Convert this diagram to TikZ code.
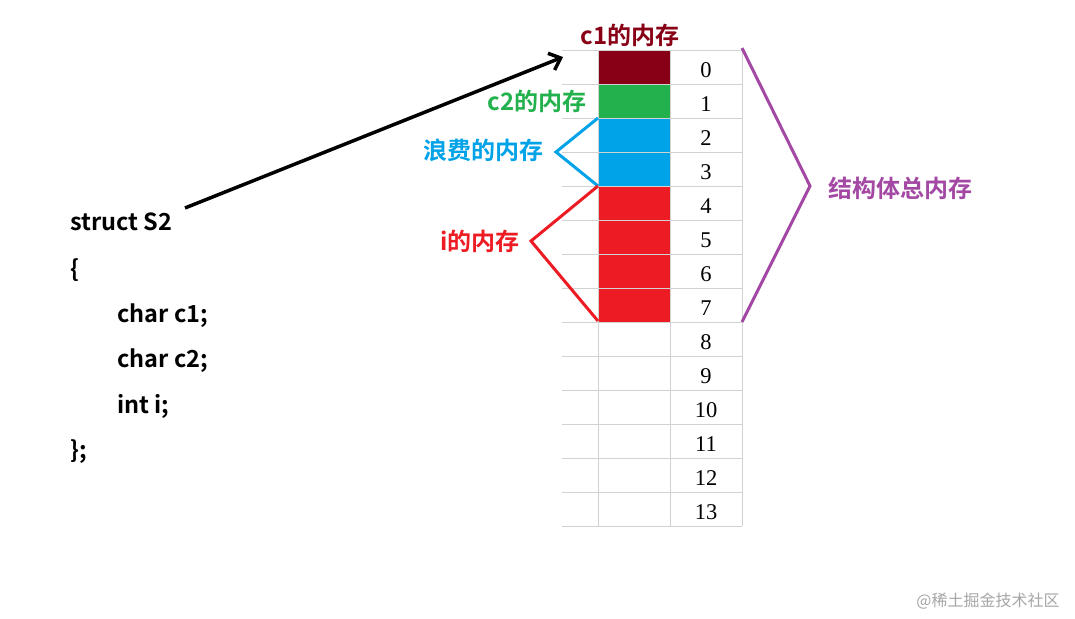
\documentclass[tikz,border=0pt]{standalone}
\usepackage{fontspec}
\setmainfont{Liberation Serif}
\newfontfamily\cjk{Noto Sans CJK SC}[BoldFont={* Bold}]
\usetikzlibrary{arrows.meta}
\definecolor{cone}{HTML}{880015}
\definecolor{ctwo}{HTML}{22B14C}
\definecolor{waste}{HTML}{00A2E8}
\definecolor{ired}{HTML}{ED1C24}
\definecolor{purp}{HTML}{A349A4}
\tikzset{lab/.style={font=\cjk\bfseries\fontsize{24}{28}\selectfont,inner sep=0},
code/.style={font=\cjk\bfseries\fontsize{23.5}{28}\selectfont,anchor=west,inner sep=0},
num/.style={font=\fontsize{22.5}{26}\selectfont,inner sep=0}}
\begin{document}
\begin{tikzpicture}[x=1pt,y=-1pt]
\useasboundingbox (0,0) rectangle (1075,618);
\fill[white] (0,0) rectangle (1075,618);
% cells
\fill[cone] (598,50) rectangle (670,84);
\fill[ctwo] (598,84) rectangle (670,118);
\fill[waste] (598,118) rectangle (670,186);
\fill[ired] (598,186) rectangle (670,322);
% grid
\foreach \i in {0,...,14} \draw[gray!35,line width=0.6] (562,50+34*\i) -- (742,50+34*\i);
\foreach \x in {598,670,742} \draw[gray!35,line width=0.6] (\x,50) -- (\x,526);
\foreach \i in {0,...,13} \node[num] (n\i) at (706,70+34*\i) {\i};
% labels
\node[lab,text=cone] (lc1) at (630,35) {c1的内存};
\node[lab,text=ctwo] (lc2) at (537,101) {c2的内存};
\node[lab,text=waste] (lw) at (483,150) {浪费的内存};
\node[lab,text=ired] (li) at (480,241) {i的内存};
\node[lab,text=purp] (lt) at (900,188) {结构体总内存};
\coordinate (w1) at (598,118); \coordinate (wm) at (556,152); \coordinate (w2) at (598,186);
\draw[waste,line width=3] (w1) -- (wm) -- (w2);
\coordinate (i1) at (598,186); \coordinate (im) at (531,241); \coordinate (i2) at (598,321);
\draw[ired,line width=3] (i1) -- (im) -- (i2);
\coordinate (p1) at (742,48); \coordinate (pm) at (810,186); \coordinate (p2) at (742,322);
\draw[purp,line width=3] (p1) -- (pm) -- (p2);
% code
\node[code] (s) at (70,222) {struct S2};
\node[code] (b1) at (70,270) {\{};
\node[code] (c1) at (117,316) {char c1;};
\node[code] (c2) at (117,361) {char c2;};
\node[code] (ii) at (117,406) {int i;};
\node[code] (b2) at (70,452) {\};};
\coordinate (as) at (185,208); \coordinate (ae) at (563,57);
\draw[line width=3.5,-{Straight Barb[length=10pt,width=18pt]}] (as) -- (ae);
\node[font=\cjk\fontsize{16}{18}\selectfont,text=gray!70,inner sep=0] (wm2) at (988,601) {@稀土掘金技术社区};
\end{tikzpicture}
\end{document}
